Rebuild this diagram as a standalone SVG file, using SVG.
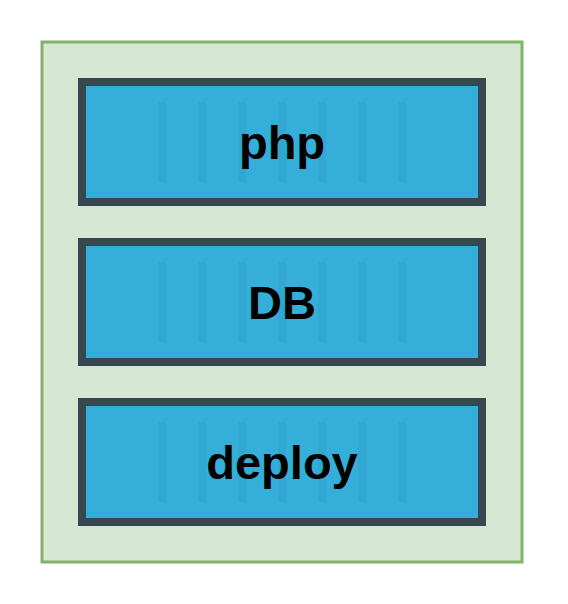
<svg xmlns="http://www.w3.org/2000/svg" width="568" height="604" viewBox="0 0 568 604">
  <style>
    .frame { fill: #d5e8d4; stroke: #82b366; stroke-width: 3; }
    .box { fill: #35afda; stroke: #37474f; stroke-width: 8; }
    .rib { fill: #31a7d1; }
    .label { font-family: "Liberation Sans", Arial, Helvetica, sans-serif; font-weight: bold; font-size: 47px; fill: #000000; text-anchor: middle; }
  </style>
  <defs>
    <!-- vertical ribs drawn across each layer -->
    <g id="ribs">
      <rect class="rib" x="158" y="0" width="8" height="80"/>
      <rect class="rib" x="198" y="0" width="8" height="80"/>
      <rect class="rib" x="238" y="0" width="8" height="80"/>
      <rect class="rib" x="278" y="0" width="8" height="80"/>
      <rect class="rib" x="318" y="0" width="8" height="80"/>
      <rect class="rib" x="358" y="0" width="8" height="80"/>
      <rect class="rib" x="398" y="0" width="8" height="80"/>
    </g>
  </defs>

  <g id="container">
    <rect class="frame" x="42" y="42" width="480" height="520"/>
  </g>

  <g id="php">
    <rect class="box" x="82" y="82" width="400" height="120"/>
    <use href="#ribs" y="102"/>
    <text class="label" x="282" y="159">php</text>
  </g>

  <g id="db">
    <rect class="box" x="82" y="242" width="400" height="120"/>
    <use href="#ribs" y="262"/>
    <text class="label" x="282" y="319">DB</text>
  </g>

  <g id="deploy">
    <rect class="box" x="82" y="402" width="400" height="120"/>
    <use href="#ribs" y="422"/>
    <text class="label" x="282" y="479">deploy</text>
  </g>

  <g id="connectors"></g>
</svg>
